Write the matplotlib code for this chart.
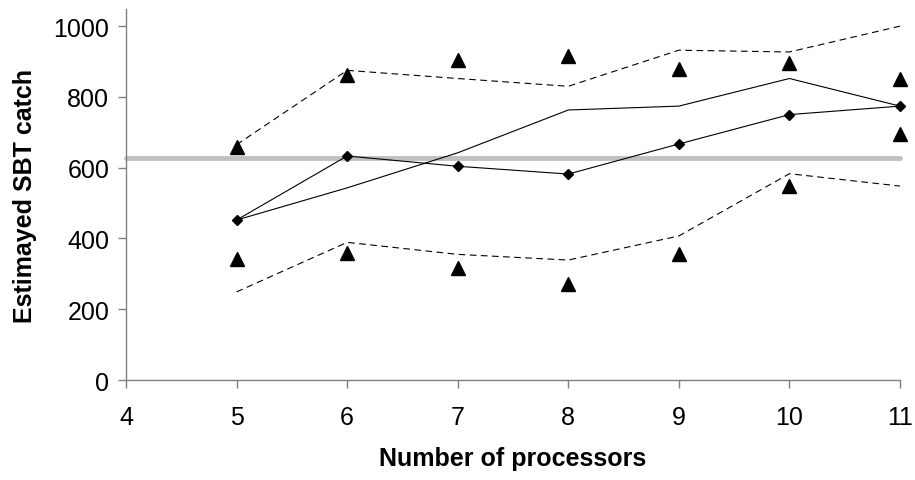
import matplotlib
matplotlib.use("Agg")
import matplotlib.pyplot as plt

plt.rcParams['font.family'] = ['Liberation Sans', 'DejaVu Sans']

processors = [5, 6, 7, 8, 9, 10, 11]
estimate = [452, 633, 604, 582, 667, 750, 774]
trend = [452, 543, 642, 763, 774, 852, 774]
upper_band = [665, 875, 852, 830, 932, 927, 1000]
lower_band = [249, 389, 355, 339, 407, 583, 548]
upper_obs = [658, 863, 904, 915, 880, 896, 852]
lower_obs = [343, 360, 317, 270, 355, 548, 694]
reference_level = 627
x_range = [4, 11]

fig = plt.figure(figsize=(9.15, 4.81), dpi=100)
ax = fig.add_axes([0.1377, 0.2079, 0.8459, 0.771])

ax.plot(x_range, [reference_level, reference_level], color='#c0c0c0', lw=3.5,
        solid_capstyle='round', zorder=1, clip_on=False)
ax.plot(processors, upper_band, color='black', lw=0.8, ls=(0, (6, 4)), zorder=2)
ax.plot(processors, lower_band, color='black', lw=0.8, ls=(0, (6, 4)), zorder=2)
ax.plot(processors, trend, color='black', lw=0.8, zorder=2)
ax.plot(processors, estimate, color='black', lw=0.8, marker='D', markersize=5,
        zorder=3, clip_on=False)
ax.plot(processors, upper_obs, ls='none', marker='^', color='black', markersize=10,
        zorder=4, clip_on=False)
ax.plot(processors, lower_obs, ls='none', marker='^', color='black', markersize=10,
        zorder=4, clip_on=False)

ax.set_xlim(4, 11)
ax.set_ylim(0, 1048)
ax.set_xticks(range(4, 12))
ax.set_yticks(range(0, 1001, 200))

for s in ['top', 'right']:
    ax.spines[s].set_visible(False)
for s in ['left', 'bottom']:
    ax.spines[s].set_color('#808080')
    ax.spines[s].set_linewidth(1.0)
ax.tick_params(axis='both', colors='#808080', length=6, width=1.0,
               labelcolor='black', labelsize=18, direction='out')
ax.tick_params(axis='x', pad=12)
ax.tick_params(axis='y', pad=6)

ax.set_xlabel('Number of processors', fontsize=18, fontweight='bold', labelpad=12)
ax.set_ylabel('Estimayed SBT catch', fontsize=18, fontweight='bold', labelpad=12)

fig.savefig('out.png', dpi=100)
